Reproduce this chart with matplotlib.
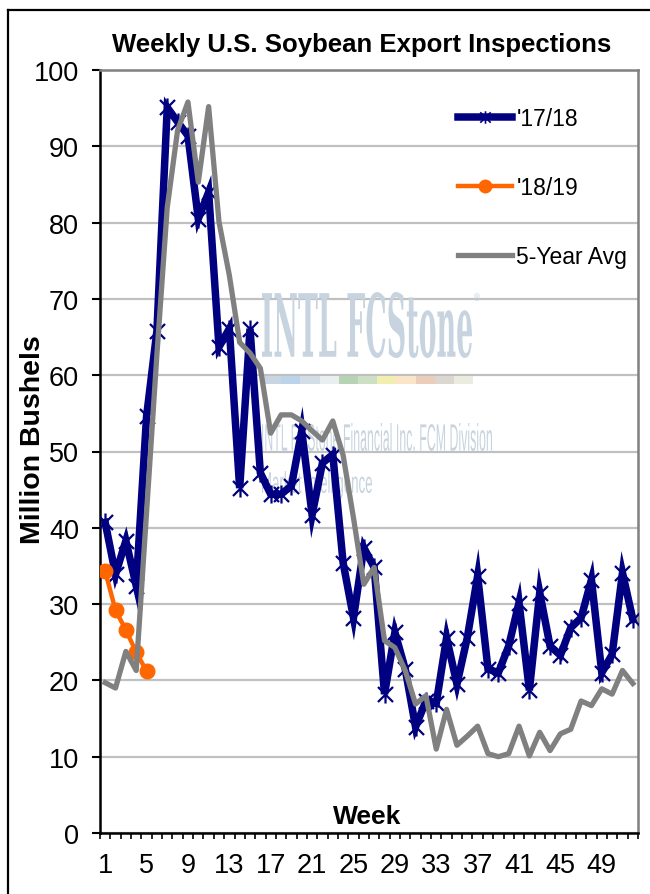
import matplotlib
matplotlib.use("Agg")
import matplotlib.pyplot as plt
from matplotlib.path import Path
from matplotlib.lines import Line2D
from matplotlib.textpath import TextPath
from matplotlib.patches import PathPatch, Rectangle
from matplotlib.font_manager import FontProperties
from matplotlib.transforms import Affine2D, IdentityTransform

plt.rcParams['font.family'] = ['Liberation Sans', 'DejaVu Sans']

W, H = 650, 895

# data (million bushels per marketing-year week)
weeks = list(range(1, 53))
my_1718 = [40.7, 33.9, 38.3, 32.4, 54.6, 65.8, 95.1, 93.2, 91.4, 80.5,
           84.0, 63.7, 66.1, 45.2, 66.1, 47.2, 44.4, 44.4, 45.5, 52.7,
           41.7, 48.5, 49.6, 35.4, 28.2, 37.4, 34.8, 18.2, 26.3, 21.5,
           13.9, 17.3, 17.0, 25.6, 19.5, 25.6, 33.7, 21.5, 21.0, 24.5,
           30.2, 18.7, 31.5, 24.5, 23.3, 26.9, 28.2, 33.2, 21.0, 23.4,
           34.1, 28.0]
my_1819 = [34.3, 29.2, 26.6, 23.7, 21.2]
avg_5yr = [19.7, 19.0, 23.8, 21.3, 42.0, 62.7, 82.0, 92.1, 95.8, 85.3,
           95.2, 80.1, 73.1, 64.3, 62.9, 60.9, 52.4, 54.8, 54.8, 54.0,
           52.7, 51.5, 54.0, 49.5, 41.3, 32.6, 34.8, 25.2, 24.3, 21.3,
           16.9, 18.0, 11.0, 16.2, 11.5, 12.7, 14.0, 10.4, 10.0, 10.4,
           14.0, 10.1, 13.2, 10.8, 13.0, 13.6, 17.3, 16.7, 18.9, 18.2,
           21.3, 19.6]
labels = ["'17/18", "'18/19", "5-Year Avg"]
xtick_weeks = list(range(1, 50, 4))

NAVY = '#000080'
ORANGE = '#ff6600'
GRAY = '#808080'

# excel style star marker: an X with a vertical stroke
star = Path([(-1, -1), (1, 1), (-1, 1), (1, -1), (0, -1.2), (0, 1.2)],
            [Path.MOVETO, Path.LINETO] * 3)

fig = plt.figure(figsize=(W / 100, H / 100), dpi=100)
ax = fig.add_axes([100 / W, 1 - 834 / H, 538 / W, 763 / H])

ax.plot(weeks, my_1718, color=NAVY, lw=5.4, marker=star, ms=13,
        mec=NAVY, mfc='none', mew=1.6, solid_joinstyle='miter', zorder=3,
        label=labels[0])
ax.plot(weeks[:len(my_1819)], my_1819, color=ORANGE, lw=3.2, marker='o',
        ms=10.5, mec=ORANGE, mfc=ORANGE, zorder=4, label=labels[1])
ax.plot(weeks, avg_5yr, color=GRAY, lw=3.8, zorder=5, label=labels[2])

ax.set_xlim(0.5, 52.5)
ax.set_ylim(0, 100)
ax.set_yticks(range(0, 101, 10))
ax.set_xticks(xtick_weeks)
ax.set_xticks([w - 0.5 for w in weeks] + [52.5], minor=True)
ax.grid(axis='y', color='#c0c0c0', lw=1.6, zorder=0)
ax.set_axisbelow(True)

ax.tick_params(axis='y', direction='out', length=6, width=1.5, pad=9,
               labelsize=19.5, color='black')
ax.tick_params(axis='x', which='major', length=0, pad=14, labelsize=19.5)
ax.tick_params(axis='x', which='minor', direction='out', length=4, width=1.2)
for lab in ax.get_xticklabels():
    lab.set_family(['Liberation Sans Narrow', 'Liberation Sans'])

for side in ('left', 'bottom'):
    ax.spines[side].set_color('black')
    ax.spines[side].set_linewidth(1.8)
for side in ('top', 'right'):
    ax.spines[side].set_color(GRAY)
    ax.spines[side].set_linewidth(1.8)


# watermark
def stretched(s, box, color, prop):
    x0, y0, x1, y1 = box
    tp = TextPath((0, 0), s, size=100, prop=prop)
    ext = tp.get_extents()
    tr = (Affine2D().translate(-ext.x0, -ext.y0)
          .scale((x1 - x0) / ext.width, (y1 - y0) / ext.height)
          .translate(x0, H - y1))
    p = PathPatch(tr.transform_path(tp), fc=color, ec='none',
                  transform=IdentityTransform(), zorder=1)
    ax.add_artist(p)


wm = '#c7d4df'
stretched('INTL FCStone', (262, 293, 472, 359), wm,
          FontProperties(family='DejaVu Serif', weight='bold'))
stretched('\u00ae', (474, 294, 480, 302), wm, FontProperties(family='DejaVu Sans'))
bar_colors = ['#c9d5e0', '#bcd4ea', '#d2dde6', '#e9eef1', '#b6d4b4', '#cddfc5',
              '#f2eeb0', '#fce4c8', '#eccdb9', '#dcd8d1', '#ecebdf']
for i, c in enumerate(bar_colors):
    ax.add_artist(Rectangle((262 + i * 19.2, H - 385), 19.2, 8, fc=c, ec='none',
                            transform=IdentityTransform(), zorder=1))
narrow = FontProperties(family=['Liberation Sans Narrow', 'Liberation Sans'])
stretched('INTL FCStone Financial Inc. FCM Division', (262, 424, 492, 452), wm, narrow)
stretched('Market Intelligence', (262, 472, 372, 500), wm, narrow)

# legend
handles = [Line2D([], [], color=NAVY, lw=5.4, marker=star, ms=9, mec=NAVY, mew=1.2),
           Line2D([], [], color=ORANGE, lw=3.2, marker='o', ms=9, mec=ORANGE),
           Line2D([], [], color=GRAY, lw=3.8)]
ax.legend(handles, labels, loc='upper left', bbox_to_anchor=(458 / W, 1 - 108 / H),
          bbox_transform=fig.transFigure, frameon=False, fontsize=16.5,
          numpoints=1, handlelength=2.35, handletextpad=0.2, labelspacing=2.0,
          borderpad=0, borderaxespad=0)

fig.text(362 / W, 1 - 45 / H, 'Weekly U.S. Soybean Export Inspections',
         ha='center', va='center', fontsize=18.5, fontweight='bold')
fig.text(33 / W, 1 - 440 / H, 'Million Bushels', rotation=90, ha='center',
         va='center', fontsize=20.5, fontweight='bold')
fig.text(367 / W, 1 - 817 / H, 'Week', ha='center', va='center',
         fontsize=19, fontweight='bold')

# outer chart frame (top and left edges visible in the crop)
fig.add_artist(Line2D([8 / W, 8 / W], [0, 1 - 11 / H], color='black', lw=1.6,
                      transform=fig.transFigure))
fig.add_artist(Line2D([8 / W, 1], [1 - 11 / H, 1 - 11 / H], color='black', lw=1.6,
                      transform=fig.transFigure))

fig.savefig('out.png', dpi=100)
